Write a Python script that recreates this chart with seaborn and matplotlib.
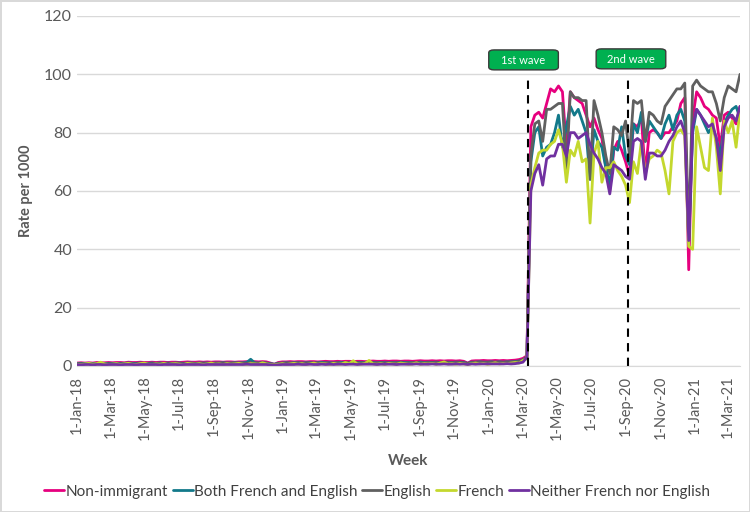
import pandas as pd
import seaborn as sns
import matplotlib.pyplot as plt
from matplotlib.patches import FancyBboxPatch
from matplotlib.lines import Line2D

# weekly categories, 1-Jan-18 onwards
weeks = pd.date_range("2018-01-01", periods=169, freq="7D")

non_immigrant = [
    1.0, 1.1, 1.0, 1.1, 1.0, 1.2, 1.1, 1.1, 1.2, 1.1, 1.2, 1.2, 1.1, 1.3, 1.2, 1.2, 1.3, 1.2, 1.2,
    1.3, 1.2, 1.3, 1.3, 1.2, 1.3, 1.3, 1.2, 1.3, 1.4, 1.3, 1.3, 1.4, 1.3, 1.4, 1.3, 1.4, 1.4, 1.3,
    1.4, 1.4, 1.3, 1.4, 1.4, 1.5, 1.4, 1.5, 1.4, 1.5, 1.4, 1.0, 0.6, 1.2, 1.4, 1.4, 1.5, 1.4, 1.5,
    1.5, 1.4, 1.5, 1.5, 1.4, 1.5, 1.6, 1.5, 1.5, 1.6, 1.5, 1.6, 1.6, 1.5, 1.6, 1.6, 1.5, 1.6, 1.7,
    1.6, 1.6, 1.7, 1.6, 1.7, 1.7, 1.6, 1.7, 1.7, 1.6, 1.7, 1.8, 1.7, 1.7, 1.8, 1.7, 1.8, 1.7, 1.8,
    1.8, 1.7, 1.8, 1.6, 1.0, 1.7, 1.8, 1.8, 1.9, 1.8, 1.8, 1.9, 1.8, 1.9, 1.8, 1.9, 2.0, 2.2, 2.6,
    3.5, 82, 86, 87, 85, 90, 95, 94, 96, 94, 75,
    94, 92, 91, 90, 86, 82, 85, 81, 78, 68,
    60, 74, 77, 74, 70, 65, 83, 82, 85, 66,
    80, 81, 80, 78, 80, 80, 82, 84, 90, 92,
    33, 85, 94, 92, 89, 88, 86, 85, 75, 86,
    87, 85, 83, 89,
]

both_french_english = [
    0.8, 0.9, 0.8, 0.9, 0.8, 0.9, 0.9, 0.8, 0.9, 0.9, 0.8, 0.9, 0.9, 1.0, 0.9, 0.9, 1.0, 0.9, 0.9,
    1.0, 0.9, 1.0, 0.9, 1.0, 0.9, 1.0, 1.0, 0.9, 1.0, 1.0, 0.9, 1.0, 1.0, 1.0, 0.9, 1.0, 1.0, 1.1,
    1.0, 1.0, 1.1, 1.0, 1.1, 1.2, 2.3, 1.1, 1.0, 1.1, 1.0, 0.8, 0.6, 0.9, 1.0, 1.1, 1.0, 1.1, 1.1,
    1.0, 1.1, 1.1, 1.0, 1.1, 1.2, 1.1, 1.1, 1.0, 1.1, 1.2, 1.1, 1.1, 1.2, 1.1, 1.2, 1.1, 1.2, 1.2,
    1.1, 1.2, 1.2, 1.1, 1.2, 1.2, 1.3, 1.2, 1.2, 1.1, 1.2, 1.3, 1.2, 1.3, 1.2, 1.3, 1.2, 1.3, 1.3,
    1.2, 1.3, 1.3, 1.2, 0.9, 1.3, 1.3, 1.4, 1.3, 1.3, 1.4, 1.3, 1.4, 1.3, 1.4, 1.4, 1.5, 1.7, 2.1,
    3.0, 70, 80, 82, 72, 75, 76, 80, 86, 75, 82,
    89, 86, 88, 84, 80, 64, 81, 77, 75, 68,
    62, 75, 74, 82, 72, 69, 83, 80, 87, 77,
    84, 82, 80, 78, 83, 86, 81, 86, 88, 84,
    42, 80, 88, 86, 83, 80, 82, 78, 72, 83,
    86, 88, 89, 85,
]

english = [
    0.7, 0.8, 0.7, 0.8, 0.7, 0.8, 0.8, 0.7, 0.8, 0.8, 0.7, 0.8, 0.8, 0.8, 0.7, 0.8, 0.9, 0.8, 0.8,
    0.8, 0.9, 0.8, 0.8, 0.9, 0.8, 0.9, 0.9, 0.8, 0.9, 0.9, 0.8, 0.9, 0.9, 0.8, 0.9, 0.9, 0.9, 1.0,
    0.9, 0.9, 1.0, 0.9, 1.0, 0.9, 1.0, 1.0, 0.9, 1.0, 0.9, 0.7, 0.5, 0.8, 0.9, 1.0, 0.9, 1.0, 1.0,
    0.9, 1.0, 1.0, 0.9, 1.0, 1.0, 1.0, 0.9, 1.0, 1.1, 1.0, 1.0, 1.1, 1.0, 1.0, 1.1, 1.0, 1.1, 1.1,
    1.0, 1.1, 1.1, 1.0, 1.1, 1.1, 1.1, 1.0, 1.1, 1.1, 1.2, 1.1, 1.1, 1.2, 1.1, 1.2, 1.1, 1.2, 1.2,
    1.1, 1.2, 1.2, 1.1, 0.8, 1.2, 1.2, 1.3, 1.2, 1.2, 1.3, 1.2, 1.3, 1.2, 1.3, 1.3, 1.4, 1.6, 2.0,
    3.2, 72, 83, 84, 77, 88, 88, 89, 90, 90, 67,
    94, 92, 92, 91, 91, 64, 91, 86, 80, 72,
    66, 82, 81, 79, 84, 72, 91, 90, 91, 77,
    87, 86, 84, 83, 89, 91, 93, 95, 95, 97,
    43, 96, 98, 96, 95, 94, 94, 90, 84, 92,
    96, 95, 94, 100,
]

french = [
    0.6, 0.5, 0.7, 0.9, 0.6, 0.8, 1.3, 0.7, 0.5, 0.6, 0.8, 0.5, 0.7, 0.9, 0.6, 0.5, 0.8, 1.0, 0.6,
    0.5, 0.7, 0.6, 0.9, 0.5, 0.7, 0.8, 0.6, 0.5, 0.9, 0.7, 0.6, 0.8, 0.5, 0.7, 1.0, 0.6, 0.7, 0.5,
    0.8, 0.6, 0.7, 0.9, 0.6, 0.5, 0.8, 0.7, 0.6, 1.1, 0.7, 0.5, 0.4, 0.6, 0.8, 0.5, 0.7, 0.9, 0.6,
    0.8, 0.5, 0.7, 1.0, 0.6, 0.8, 0.7, 0.5, 0.9, 0.6, 0.7, 1.2, 0.8, 1.8, 0.7, 0.6, 0.9, 1.9, 0.7,
    0.6, 0.8, 0.5, 0.9, 0.7, 0.6, 1.0, 0.8, 0.6, 0.7, 1.1, 0.6, 0.8, 0.7, 0.9, 0.6, 1.0, 1.4, 0.7,
    0.8, 0.6, 0.9, 0.7, 0.5, 0.8, 1.0, 0.7, 0.9, 0.6, 0.8, 1.1, 0.7, 0.9, 0.8, 1.0, 1.2, 1.0, 1.9,
    2.5, 62, 68, 73, 74, 74, 76, 77, 81, 76, 63,
    74, 72, 77, 70, 71, 49, 73, 77, 63, 68,
    68, 70, 67, 65, 62, 56, 70, 66, 77, 66,
    71, 72, 74, 73, 67, 59, 77, 80, 81, 79,
    41, 40, 82, 75, 68, 67, 85, 75, 59, 84,
    80, 84, 75, 88,
]

neither = [
    0.5, 0.4, 0.5, 0.5, 0.4, 0.5, 0.5, 0.4, 0.5, 0.5, 0.5, 0.4, 0.5, 0.5, 0.5, 0.4, 0.5, 0.5, 0.5,
    0.5, 0.5, 0.4, 0.5, 0.5, 0.5, 0.5, 0.4, 0.5, 0.5, 0.5, 0.5, 0.5, 0.4, 0.5, 0.5, 0.5, 0.5, 0.5,
    0.5, 0.5, 0.5, 0.5, 0.5, 0.6, 0.5, 0.5, 0.5, 0.5, 0.5, 0.4, 0.3, 0.4, 0.5, 0.5, 0.5, 0.5, 0.6,
    0.5, 0.5, 0.6, 0.5, 0.5, 0.6, 0.5, 0.6, 0.5, 0.6, 0.6, 0.5, 0.6, 0.6, 0.5, 0.6, 0.6, 0.6, 0.6,
    0.5, 0.6, 0.6, 0.6, 0.6, 0.5, 0.6, 0.6, 0.6, 0.6, 0.7, 0.6, 0.6, 0.6, 0.7, 0.6, 0.6, 0.7, 0.6,
    0.6, 0.7, 0.6, 0.7, 0.5, 0.7, 0.6, 0.7, 0.7, 0.7, 0.7, 0.7, 0.7, 0.7, 0.8, 0.7, 0.8, 1.0, 1.3,
    3.0, 60, 66, 69, 62, 71, 72, 72, 76, 76, 72,
    80, 80, 78, 79, 80, 76, 73, 71, 68, 66,
    59, 69, 68, 67, 65, 64, 77, 78, 77, 64,
    73, 73, 72, 72, 74, 77, 79, 82, 84, 80,
    43, 82, 88, 86, 84, 82, 83, 78, 67, 82,
    85, 86, 84, 89,
]

groups = ["Non-immigrant", "Both French and English", "English", "French",
          "Neither French nor English"]
colors = ["#E6007E", "#12798A", "#606060", "#C4D82E", "#7030A0"]

wave_dates = ["2020-03-11", "2020-09-05"]
wave_labels = ["1st wave", "2nd wave"]

tick_dates = pd.date_range("2018-01-01", "2021-03-01", freq="2MS")
tick_labels = [f"{d.day}-{d.strftime('%b-%y')}" for d in tick_dates]

wide = pd.DataFrame({"Week": weeks, groups[0]: non_immigrant, groups[1]: both_french_english,
                     groups[2]: english, groups[3]: french, groups[4]: neither})
df = wide.melt(id_vars="Week", var_name="Group", value_name="Rate")

sns.set_style("white")
plt.rcParams["font.family"] = ["Lato", "DejaVu Sans"]

fig = plt.figure(figsize=(7.5, 5.12), dpi=100, edgecolor="#d9d9d9", linewidth=2)
ax = fig.add_axes([0.1027, 0.2852, 0.884, 0.6836])

sns.lineplot(data=df, x="Week", y="Rate", hue="Group", hue_order=groups,
             palette=dict(zip(groups, colors)), linewidth=2, legend=False, ax=ax)

for d, top in zip(wave_dates, [99, 98]):
    ax.plot([pd.Timestamp(d)] * 2, [0, top], color="black", lw=1.5, ls=(0, (4, 3)))

ax.set_ylim(0, 120)
ax.set_yticks(range(0, 121, 20))
ax.set_xlim(weeks[0], weeks[-1])
ax.set_xticks(tick_dates)
ax.set_xticklabels(tick_labels, rotation=90, fontsize=10.5, color="#595959")
ax.tick_params(axis="y", length=0, labelsize=11.5, labelcolor="#595959")
ax.tick_params(axis="x", length=4, color="#bfbfbf", width=1, pad=3)
ax.grid(axis="y", color="#d9d9d9", lw=1)
for s in ["top", "right", "left"]:
    ax.spines[s].set_visible(False)
ax.spines["bottom"].set_color("#d9d9d9")

ax.set_ylabel("Rate per 1000", fontsize=10.5, fontweight="bold", color="#595959", labelpad=8)
ax.set_xlabel("Week", fontsize=11, fontweight="bold", color="#595959", labelpad=10)

# wave label boxes
for x0, y0, lab in [(0.621, 0.846, wave_labels[0]), (0.783, 0.849, wave_labels[1])]:
    box = FancyBboxPatch((x0, y0), 0.105, 0.057, boxstyle="round,pad=0,rounding_size=0.008",
                         transform=ax.transAxes, facecolor="#00B050", edgecolor="#3a3a3a",
                         lw=1, clip_on=False, zorder=5)
    ax.add_patch(box)
    ax.text(x0 + 0.0525, y0 + 0.028, lab, transform=ax.transAxes, ha="center", va="center",
            color="white", fontsize=8, zorder=6)

handles = [Line2D([], [], color=c, lw=2) for c in colors]
fig.legend(handles, groups, loc="center", bbox_to_anchor=(0.503, 0.04), ncol=5, frameon=False,
           handlelength=1.3, handletextpad=0.1, columnspacing=0.3, fontsize=11,
           labelcolor="#404040")

fig.savefig("out.png", dpi=100, edgecolor=fig.get_edgecolor())
